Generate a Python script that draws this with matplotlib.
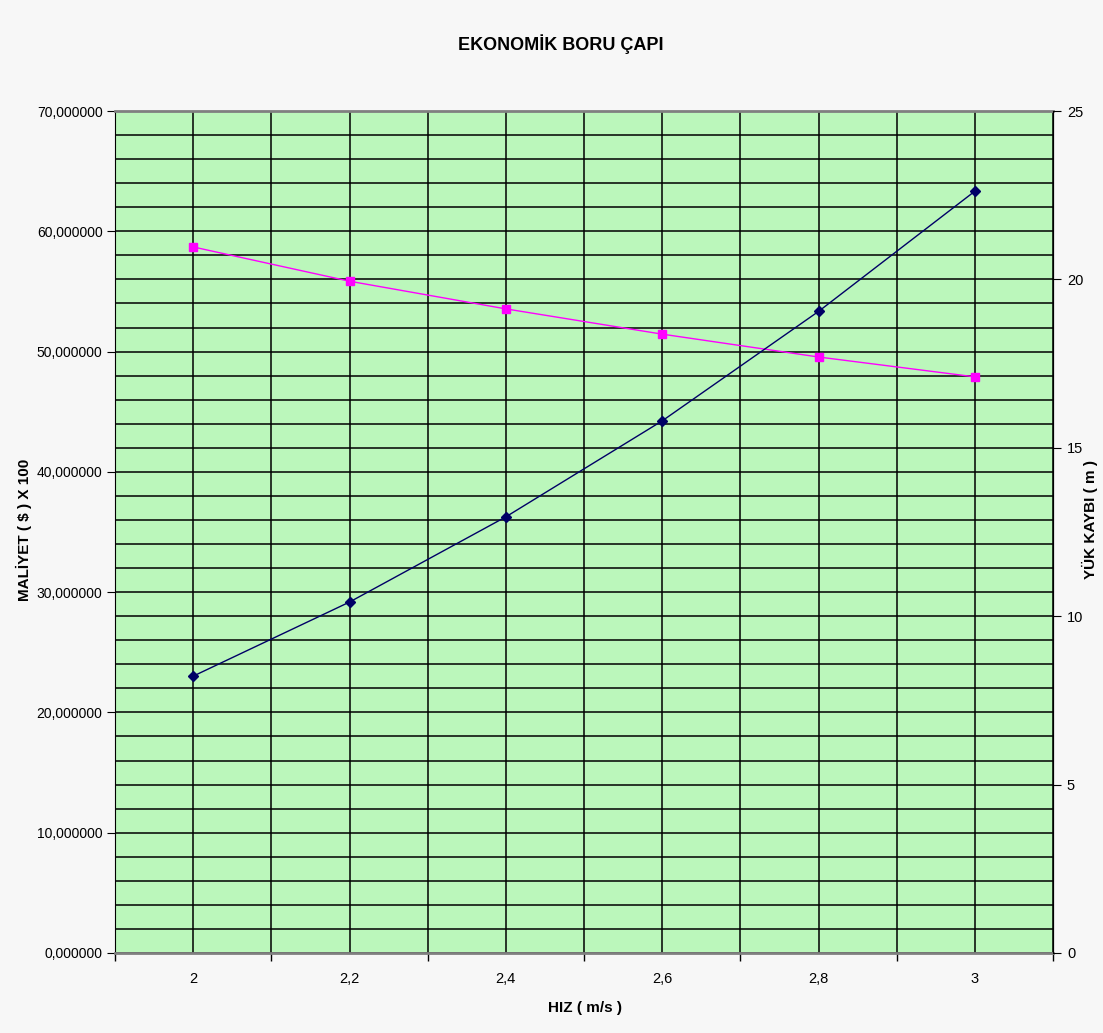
import matplotlib.pyplot as plt
from matplotlib.ticker import FixedLocator, MultipleLocator, FuncFormatter

plt.rcParams['font.family'] = ['Liberation Sans', 'DejaVu Sans']

# hız kategorileri (m/s)
hiz = ["2", "2,2", "2,4", "2,6", "2,8", "3"]
# maliyet ($ x 100) - sol eksen
maliyet = [58.7, 55.85, 53.55, 51.45, 49.55, 47.9]
# yük kaybı (m) - sağ eksen
yuk_kaybi = [8.22, 10.42, 12.95, 15.8, 19.05, 22.62]

x = list(range(len(hiz)))

fig = plt.figure(figsize=(11.03, 10.33), dpi=100, facecolor="#f7f7f7")
ax = fig.add_axes([0.1043, 0.0775, 0.8504, 0.815])
ax.set_facecolor("#bbf7bb")

ax.set_xlim(-0.5, len(hiz) - 0.5)
ax.set_ylim(0, 70)

# x ekseni: etiketler kategori ortasında, çentikler sınırlarda
ax.xaxis.set_major_locator(FixedLocator(x))
ax.set_xticklabels(hiz)
ax.xaxis.set_minor_locator(FixedLocator([i - 0.5 for i in range(len(hiz) + 1)]))
ax.tick_params(axis="x", which="major", length=0, pad=14, labelsize=10.5)
ax.tick_params(axis="x", which="minor", length=6, width=1, direction="out", color="black")

ax.yaxis.set_major_locator(MultipleLocator(10))
ax.yaxis.set_minor_locator(MultipleLocator(2))
ax.yaxis.set_major_formatter(FuncFormatter(lambda v, p: f"{v:.6f}".replace(".", ",")))
ax.tick_params(axis="y", which="major", length=6, direction="out", labelsize=10, pad=3)
ax.tick_params(axis="y", which="minor", length=0)

ax.grid(True, which="both", color="black", linewidth=1.1)
ax.set_axisbelow(True)

for side in ["top", "bottom"]:
    ax.spines[side].set_color("#808080")
    ax.spines[side].set_linewidth(2)
ax.spines["left"].set_color("black")
ax.spines["right"].set_color("black")

ax.plot(x, maliyet, color="#ff00ff", linewidth=1, marker="s", markersize=6, zorder=5)

ax2 = ax.twinx()
ax2.set_ylim(0, 25)
ax2.yaxis.set_major_locator(MultipleLocator(5))
ax2.tick_params(axis="y", length=6, direction="out", labelsize=10.5, pad=4)
ax2.plot(x, yuk_kaybi, color="#000066", linewidth=1, marker="D", markersize=5, zorder=5)
for s in ax2.spines.values():
    s.set_visible(False)
ax2.spines["right"].set_visible(True)
ax2.spines["right"].set_color("black")

fig.text(0.508, 0.957, "EKONOMİK BORU ÇAPI", ha="center", va="center",
         fontsize=13, fontweight="bold")
fig.text(0.53, 0.024, "HIZ ( m/s )", ha="center", va="center",
         fontsize=11, fontweight="bold")
fig.text(0.022, 0.487, "MALİYET ( $ ) X 100", ha="center", va="center",
         rotation=90, fontsize=11, fontweight="bold")
fig.text(0.988, 0.497, "YÜK KAYBI ( m )", ha="center", va="center",
         rotation=90, fontsize=11, fontweight="bold")

fig.savefig("out.png", dpi=100, facecolor=fig.get_facecolor())
